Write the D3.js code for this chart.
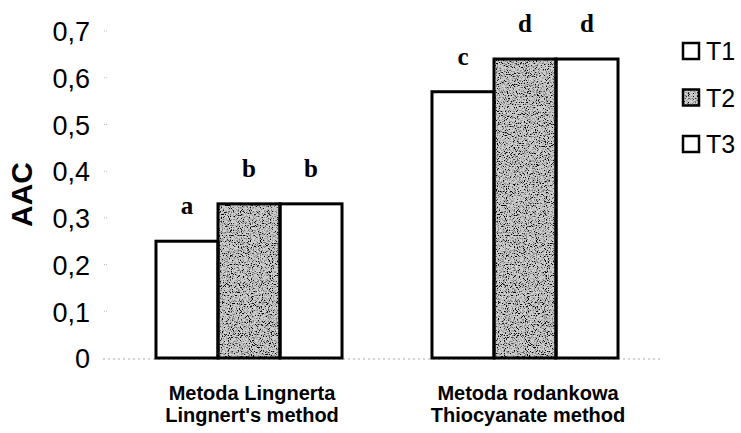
<!DOCTYPE html>
<html>
<head>
<meta charset="utf-8">
<script src="https://cdn.jsdelivr.net/npm/d3@7"></script>
<style>
  html, body { margin: 0; padding: 0; background: #fff; }
  svg { display: block; }
</style>
</head>
<body>
<svg id="chart" width="741" height="433"></svg>
<script>
// Ascorbic acid content by analytical method and treatment
const methods = ["Metoda Lingnerta|Lingnert's method", "Metoda rodankowa|Thiocyanate method"];
const series = ["T1", "T2", "T3"];
const valuesT1 = [0.25, 0.57];
const valuesT2 = [0.33, 0.64];
const valuesT3 = [0.33, 0.64];
const groupLetters = [["a", "b", "b"], ["c", "d", "d"]];
const yTicks = [0, 0.1, 0.2, 0.3, 0.4, 0.5, 0.6, 0.7];
const yTitle = "AAC";

const seriesValues = [valuesT1, valuesT2, valuesT3];
const rows = methods.map((m, i) => ({
  method: m,
  bars: series.map((s, j) => ({ series: s, value: seriesValues[j][i], letter: groupLetters[i][j] }))
}));

const svg = d3.select("#chart");

const y = d3.scaleLinear().domain([0, 0.7]).range([358, 31]);
const x0 = d3.scaleBand().domain(methods).range([111, 663])
  .paddingInner(0.326).paddingOuter(0.163);
const x1 = d3.scaleBand().domain(series).range([0, x0.bandwidth()]);

// Grainy stipple texture for the T2 fill
const defs = svg.append("defs");
const grain = defs.append("filter").attr("id", "grain")
  .attr("x", 0).attr("y", 0).attr("width", 1).attr("height", 1)
  .attr("filterUnits", "objectBoundingBox");
grain.append("feTurbulence").attr("type", "fractalNoise")
  .attr("baseFrequency", 0.9).attr("numOctaves", 3).attr("seed", 7).attr("result", "noise");
grain.append("feColorMatrix").attr("in", "noise").attr("type", "matrix")
  .attr("values", "0 0 0 0 0  0 0 0 0 0  0 0 0 0 0  -5 0 0 0 2.6").attr("result", "specks");
grain.append("feComposite").attr("in", "specks").attr("in2", "SourceGraphic")
  .attr("operator", "in").attr("result", "clipped");
const merge = grain.append("feMerge");
merge.append("feMergeNode").attr("in", "SourceGraphic");
merge.append("feMergeNode").attr("in", "clipped");

const fills = { T1: "#ffffff", T2: "#cfcfcf", T3: "#ffffff" };

// Faint dotted baseline and y ticks
svg.append("line")
  .attr("x1", 103).attr("x2", 662).attr("y1", y(0) + 1).attr("y2", y(0) + 1)
  .attr("stroke", "#aaa").attr("stroke-width", 1).attr("stroke-dasharray", "2,3");

const yAxis = d3.axisLeft(y).tickValues(yTicks).tickSize(0).tickPadding(0)
  .tickFormat(d => d === 0 ? "0" : d3.format(".1f")(d).replace(".", ","));
const yg = svg.append("g").attr("transform", "translate(90,0)").call(yAxis);
yg.select(".domain").remove();
yg.selectAll("text")
  .attr("font-family", "Liberation Sans, Arial, sans-serif")
  .attr("font-size", 27).attr("fill", "#000").attr("dy", "0.36em");

svg.append("g").selectAll("line")
  .data(yTicks.filter(d => d > 0))
  .join("line")
  .attr("x1", 104).attr("x2", 108)
  .attr("y1", d => y(d)).attr("y2", d => y(d))
  .attr("stroke", "#bbb").attr("stroke-width", 1).attr("stroke-dasharray", "1,1");

// Y title
svg.append("text")
  .attr("transform", `translate(32,${(y(0.3) + y(0.4)) / 2}) rotate(-90)`)
  .attr("text-anchor", "middle")
  .attr("font-family", "Liberation Sans, Arial, sans-serif")
  .attr("font-weight", "bold").attr("font-size", 30)
  .text(yTitle);

// Bars
const groups = svg.append("g").selectAll("g")
  .data(rows)
  .join("g")
  .attr("transform", d => `translate(${x0(d.method)},0)`);

groups.selectAll("rect.fill")
  .data(d => d.bars)
  .join("rect")
  .attr("class", "fill")
  .attr("x", d => x1(d.series))
  .attr("y", d => y(d.value))
  .attr("width", x1.bandwidth())
  .attr("height", d => y(0) - y(d.value))
  .attr("fill", d => fills[d.series])
  .attr("filter", d => d.series === "T2" ? "url(#grain)" : null);

groups.selectAll("rect.edge")
  .data(d => d.bars)
  .join("rect")
  .attr("class", "edge")
  .attr("x", d => x1(d.series))
  .attr("y", d => y(d.value))
  .attr("width", x1.bandwidth())
  .attr("height", d => y(0) - y(d.value))
  .attr("fill", "none")
  .attr("stroke", "#000")
  .attr("stroke-width", 3);

// Significance letters
groups.selectAll("text.letter")
  .data(d => d.bars)
  .join("text")
  .attr("class", "letter")
  .attr("x", d => x1(d.series) + x1.bandwidth() / 2)
  .attr("y", d => y(d.value) - 27)
  .attr("text-anchor", "middle")
  .attr("font-family", "Liberation Serif, Times New Roman, serif")
  .attr("font-weight", "bold").attr("font-size", 25)
  .text(d => d.letter);

// Category labels (two lines each)
const xLabels = svg.append("g").selectAll("text")
  .data(methods)
  .join("text")
  .attr("x", d => x0(d) + x0.bandwidth() / 2 + 3)
  .attr("y", 400)
  .attr("text-anchor", "middle")
  .attr("font-family", "Liberation Sans, Arial, sans-serif")
  .attr("font-weight", "bold").attr("font-size", 20);
xLabels.selectAll("tspan")
  .data(d => d.split("|"))
  .join("tspan")
  .attr("x", function () { return d3.select(this.parentNode).attr("x"); })
  .attr("dy", (d, i) => i === 0 ? 0 : 22)
  .text(d => d);

// Legend
const legend = svg.append("g").selectAll("g")
  .data(series)
  .join("g")
  .attr("transform", (d, i) => `translate(682,${42 + i * 46.5})`);
legend.append("rect")
  .attr("x", 1).attr("y", 1).attr("width", 16).attr("height", 16)
  .attr("fill", d => fills[d])
  .attr("filter", d => d === "T2" ? "url(#grain)" : null);
legend.append("rect")
  .attr("x", 1).attr("y", 1).attr("width", 16).attr("height", 16)
  .attr("fill", "none").attr("stroke", "#000").attr("stroke-width", 2.5);
legend.append("text")
  .attr("x", 24).attr("y", 18)
  .attr("font-family", "Liberation Sans, Arial, sans-serif")
  .attr("font-size", 25)
  .text(d => d);
</script>
</body>
</html>
